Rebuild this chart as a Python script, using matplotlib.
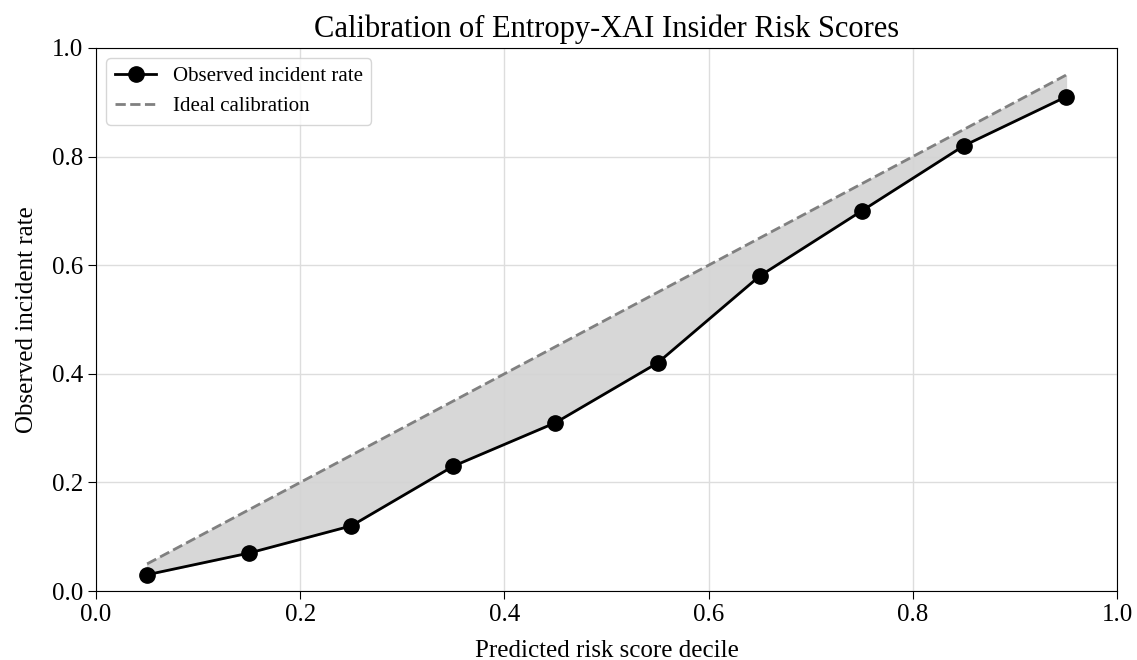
import numpy as np
import matplotlib.pyplot as plt

plt.rcParams['font.family'] = ['Liberation Serif', 'DejaVu Serif']

# decile midpoints and observed rates
deciles = [0.05, 0.15, 0.25, 0.35, 0.45, 0.55, 0.65, 0.75, 0.85, 0.95]
observed = [0.03, 0.07, 0.12, 0.23, 0.31, 0.42, 0.58, 0.70, 0.82, 0.91]

x = np.array(deciles)
y = np.array(observed)

fig = plt.figure(figsize=(11.37, 6.6), dpi=100)
ax = fig.add_axes([0.0845, 0.1045, 0.8979, 0.8228])

ax.fill_between(x, y, x, color='lightgray', alpha=0.9, zorder=1)
ax.plot(x, y, color='black', marker='o', markersize=11, linewidth=2,
        label='Observed incident rate', zorder=3)
ax.plot(x, x, color='gray', linestyle='--', linewidth=2,
        label='Ideal calibration', zorder=2)

ax.set_xlim(0, 1)
ax.set_ylim(0, 1)
ax.set_xticks(np.arange(0, 1.01, 0.2))
ax.set_yticks(np.arange(0, 1.01, 0.2))
ax.tick_params(labelsize=18, length=6)
ax.grid(True, color='#dddddd', linewidth=1)
ax.set_axisbelow(True)

ax.set_xlabel('Predicted risk score decile', fontsize=18, labelpad=10)
ax.set_ylabel('Observed incident rate', fontsize=18, labelpad=10)
ax.set_title('Calibration of Entropy-XAI Insider Risk Scores', fontsize=22, pad=8)
ax.legend(loc='upper left', fontsize=15)

fig.savefig('out.png', dpi=100)
